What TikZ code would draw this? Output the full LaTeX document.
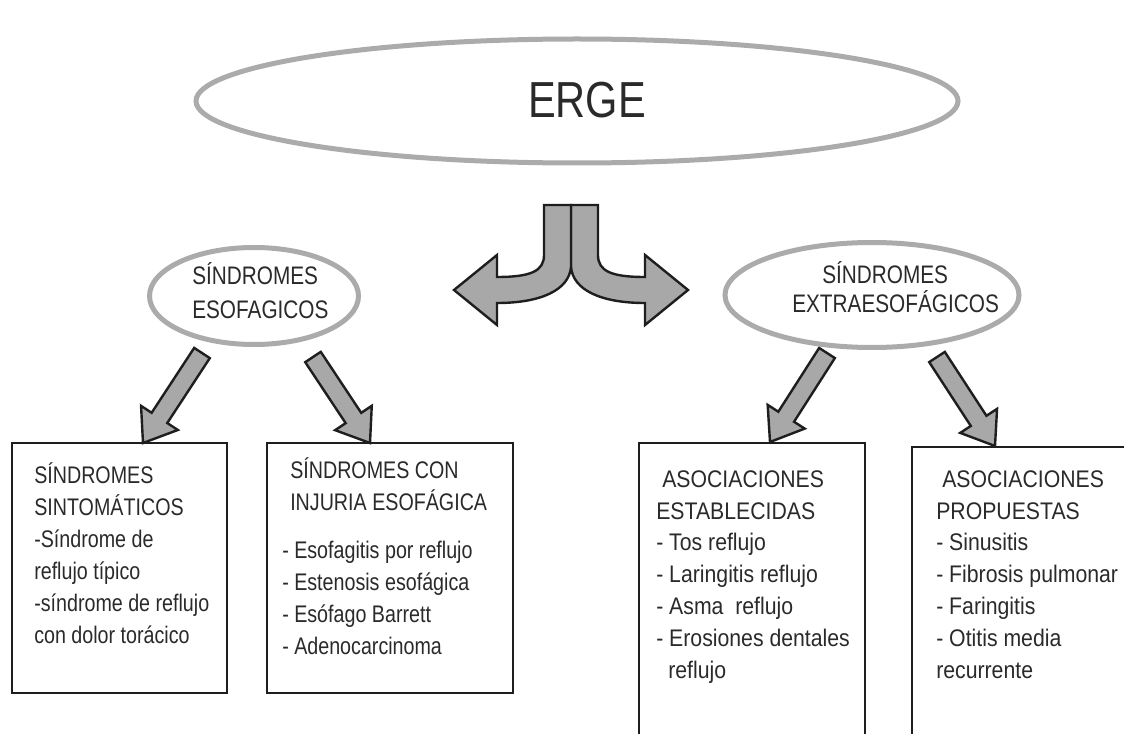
\documentclass[tikz,border=0pt]{standalone}
\usepackage{fontspec}
\setmainfont{Liberation Sans}[FakeStretch=0.82]
\newfontfamily\widefont{Liberation Sans}[FakeStretch=0.885]
\usetikzlibrary{calc, fit, shapes.geometric}
\definecolor{ergering}{HTML}{ABABAB}
\definecolor{ergefill}{HTML}{A8A8A8}
\definecolor{ergeink}{HTML}{1E1E1E}
\definecolor{ergetext}{HTML}{2A2A2A}

% fat arrow between two named coordinates
\newcommand{\fatarrow}[2]{%
  \coordinate (#1-neck) at ($(#2)!22.5pt!(#1)$);
  \draw[blockarrow] ($(#1)!7pt!90:(#2)$) -- ($(#1-neck)!7pt!90:(#2)$)
    -- ($(#1-neck)!16.5pt!90:(#2)$) -- (#2)
    -- ($(#1-neck)!16.5pt!-90:(#2)$) -- ($(#1-neck)!7pt!-90:(#2)$)
    -- ($(#1)!7pt!-90:(#2)$) -- cycle;}

\begin{document}
\begin{tikzpicture}[x=0.75pt, y=-0.75pt,
  bubble/.style={draw=ergering, line width=3.75pt, ellipse, inner sep=0pt},
  panel/.style={draw=ergeink, line width=2pt, inner sep=0pt},
  blockarrow/.style={draw=ergeink, fill=ergefill, line width=1.8pt, line join=miter},
  txt/.style={anchor=base west, align=left, inner sep=0pt, text=ergetext, font=\fontsize{18}{24}\selectfont},
  widetxt/.style={txt, font=\widefont\fontsize{18}{23.85}\selectfont}]

\useasboundingbox (0,0) rectangle (1124,734);
\clip (0,0) rectangle (1124,734);

% ERGE
\node[bubble, minimum width=571.5pt, minimum height=93pt] (erge) at (577,101) {};
\node[anchor=base, inner sep=0pt, text=ergetext, font=\fontsize{38}{40}\selectfont] (ergelabel) at (587,118) {ERGE};

% split arrow
\coordinate (fork) at (571,205);
\begin{scope}[shift={(fork)}]
\draw[blockarrow] (0,0) -- (27,0) -- (27,50) .. controls (27,66) and (40,72) .. (74,72)
  -- (74,50) -- (117,85) -- (74,120) -- (74,98) .. controls (30,98) and (2,85) .. (0,62) -- cycle;
\draw[blockarrow, xscale=-1] (0,0) -- (27,0) -- (27,50) .. controls (27,66) and (40,72) .. (74,72)
  -- (74,50) -- (117,85) -- (74,120) -- (74,98) .. controls (30,98) and (2,85) .. (0,62) -- cycle;
\end{scope}

% second level (text anchored at the last baseline)
\node[bubble, minimum width=156.75pt, minimum height=72.75pt] (esof) at (254,296) {};
\node[txt, font=\fontsize{19}{24.75}\selectfont] (esoflabel) at (192,318) {SÍNDROMES\\ESOFAGICOS};
\node[bubble, minimum width=220.5pt, minimum height=78.75pt] (extra) at (872,295) {};
\node[txt, font=\fontsize{19}{21}\selectfont] (extralabel) at (792,312) {\hspace*{22.5pt}SÍNDROMES\\EXTRAESOFÁGICOS};

% boxes
\node[panel, fit={(12,443) (227,693)}] (sintom) {};
\node[panel, fit={(267,443) (513,693)}] (injuria) {};
\node[panel, fit={(639,443) (865,750)}] (establ) {};
\node[panel, fit={(912,447) (1140,750)}] (propuest) {};

\node[txt] (sintomtxt) at (34,643) {SÍNDROMES\\SINTOMÁTICOS\\-Síndrome de\\reflujo típico\\-síndrome de reflujo\\con dolor torácico};
\node[txt] (injuriatitle) at (290,510) {SÍNDROMES CON\\INJURIA ESOFÁGICA};
\node[txt] (injuriatxt) at (282,654) {- Esofagitis por reflujo\\- Estenosis esofágica\\- Esófago Barrett\\- Adenocarcinoma};
\node[widetxt] (establtxt) at (656,678) {\hspace*{4.5pt}ASOCIACIONES\\ESTABLECIDAS\\- Tos reflujo\\- Laringitis reflujo\\- Asma~ reflujo\\- Erosiones dentales\\\hspace*{9pt}reflujo};
\node[widetxt] (propuesttxt) at (936,678) {\hspace*{4.5pt}ASOCIACIONES\\PROPUESTAS\\- Sinusitis\\- Fibrosis pulmonar\\- Faringitis\\- Otitis media\\recurrente};

% arrows
\coordinate (esof-l) at (202,353);
\coordinate (esof-r) at (313,357);
\coordinate (extra-l) at (827,353);
\coordinate (extra-r) at (937,357);
\coordinate (sintom-in) at (143,443);
\coordinate (injuria-in) at (370,443);
\coordinate (establ-in) at (770,442);
\coordinate (propuest-in) at (995,446);
\fatarrow{esof-l}{sintom-in}
\fatarrow{esof-r}{injuria-in}
\fatarrow{extra-l}{establ-in}
\fatarrow{extra-r}{propuest-in}

\end{tikzpicture}
\end{document}
